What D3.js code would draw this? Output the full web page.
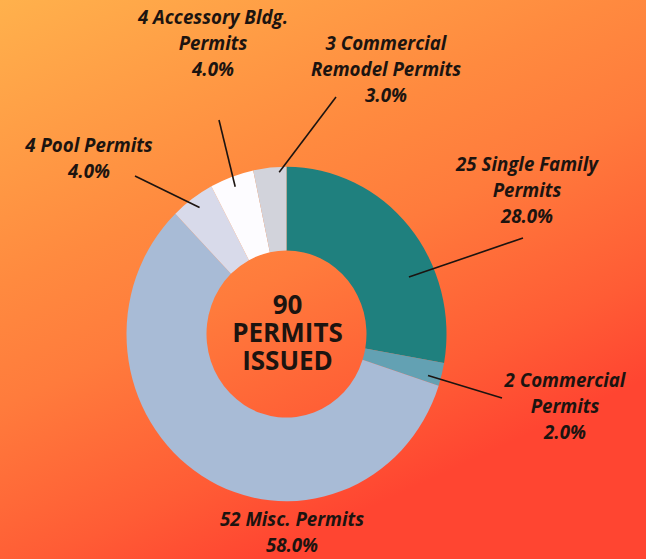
<!DOCTYPE html>
<html>
<head>
<meta charset="utf-8">
<script src="https://cdnjs.cloudflare.com/ajax/libs/d3/7.8.5/d3.min.js"></script>
<style>
  html, body { margin: 0; padding: 0; }
  body { width: 646px; height: 559px; overflow: hidden; }
  .lbl { font-family: "Open Sans", sans-serif; font-weight: 700; font-style: italic; font-size: 18.7px; fill: #1c1410; }
  .center { font-family: "Open Sans", sans-serif; font-weight: 700; font-size: 26px; fill: #1c1410; }
</style>
</head>
<body>
<div id="chart"></div>
<script>
'use strict';

// data
var categories = ['Single Family', 'Commercial', 'Misc.', 'Pool', 'Accessory Bldg.', 'Commercial Remodel'];
var counts = [25, 2, 52, 4, 4, 3];
var percents = ['28.0%', '2.0%', '58.0%', '4.0%', '4.0%', '3.0%'];
var labelLines = [
  ['25 Single Family', 'Permits'],
  ['2 Commercial', 'Permits'],
  ['52 Misc. Permits'],
  ['4 Pool Permits'],
  ['4 Accessory Bldg.', 'Permits'],
  ['3 Commercial', 'Remodel Permits']
];
var totalLabel = ['90', 'PERMITS', 'ISSUED'];

// styles / layout
var colors = ['#1f807e', '#63a1b3', '#a8bbd6', '#d8daea', '#fdfcff', '#d2d3db'];
var width = 646, height = 559;
var cx = 286.5, cy = 334;
var outerR = 160, innerR = 80, squash = 1.045;
var lineH = 26;
// label anchor (x, first baseline), leader start point, leader end on ring (angle deg, radius)
var labelPos = [
  {x: 527, y: 171, from: [523, 238], to: [66, 134]},
  {x: 565, y: 387, from: [502, 398], to: [105.7, 147]},
  {x: 292, y: 526, from: null, to: null},
  {x: 89, y: 152, from: [135, 176], to: [324.3, 149]},
  {x: 213, y: 24, from: [219, 120], to: [340, 150]},
  {x: 386, y: 50, from: [336, 97], to: [357.3, 155]}
];

var svg = d3.select('#chart')
  .append('svg')
  .attr('width', width)
  .attr('height', height);

var grad = svg.append('defs').append('linearGradient')
  .attr('id', 'bg')
  .attr('gradientUnits', 'userSpaceOnUse')
  .attr('x1', 0).attr('y1', 0)
  .attr('x2', 260).attr('y2', 559);
[[0, '#ffb14c'], [0.42, '#ff8a3f'], [0.6, '#ff7b3c'], [0.85, '#ff5c35'], [1, '#ff4531']].forEach(function(s) {
  grad.append('stop').attr('offset', s[0]).attr('stop-color', s[1]);
});

svg.append('rect')
  .attr('width', width)
  .attr('height', height)
  .attr('fill', 'url(#bg)');

var pie = d3.pie().sort(null).value(function(d) { return d; });
var arcs = pie(counts);
var arc = d3.arc().innerRadius(innerR).outerRadius(outerR);

var ring = svg.append('g')
  .attr('transform', 'translate(' + cx + ',' + cy + ') scale(1,' + squash + ')');

ring.selectAll('path')
  .data(arcs)
  .enter()
  .append('path')
  .attr('d', arc)
  .attr('fill', function(d, i) { return colors[i]; });

// leader lines
var leaders = svg.append('g').attr('class', 'leaders');
labelPos.forEach(function(p, i) {
  if (!p.from) return;
  var pt = d3.pointRadial(p.to[0] * Math.PI / 180, p.to[1]);
  leaders.append('line')
    .attr('x1', p.from[0]).attr('y1', p.from[1])
    .attr('x2', cx + pt[0]).attr('y2', cy + pt[1] * squash)
    .attr('stroke', '#1c1410')
    .attr('stroke-width', 1.6);
});

// labels
var labels = svg.append('g').attr('class', 'labels');
categories.forEach(function(c, i) {
  var lines = labelLines[i].concat([percents[i]]);
  var t = labels.append('text')
    .attr('class', 'lbl')
    .attr('text-anchor', 'middle')
    .attr('x', labelPos[i].x)
    .attr('y', labelPos[i].y);
  lines.forEach(function(l, j) {
    t.append('tspan')
      .attr('x', labelPos[i].x)
      .attr('dy', j === 0 ? 0 : lineH)
      .text(l);
  });
});

// center text
var ct = svg.append('text')
  .attr('class', 'center')
  .attr('text-anchor', 'middle')
  .attr('x', cx)
  .attr('y', 314);
totalLabel.forEach(function(l, j) {
  ct.append('tspan')
    .attr('x', cx + 1)
    .attr('dy', j === 0 ? 0 : 28)
    .text(l);
});
</script>
</body>
</html>
